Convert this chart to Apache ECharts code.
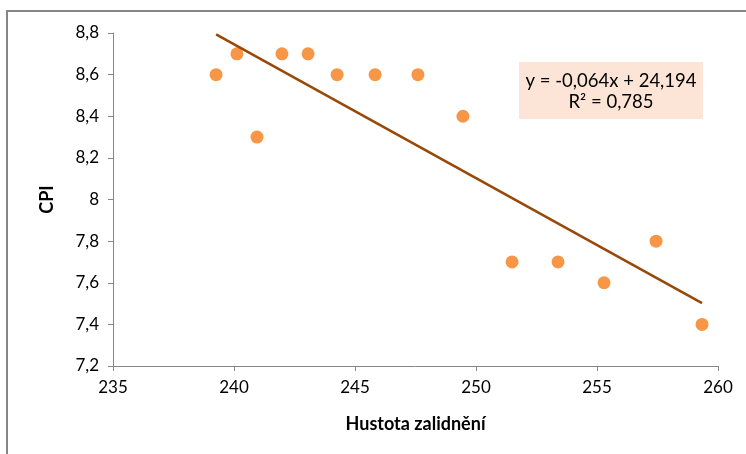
<!DOCTYPE html>
<html><head><meta charset="utf-8">
<script src="https://cdn.jsdelivr.net/npm/echarts@6/dist/echarts.min.js"></script>
<style>html,body{margin:0;padding:0;background:#fff}#c{width:746px;height:454px}</style>
</head><body><div id="c"></div>
<script>
const density = [239.26, 240.12, 240.95, 241.98, 243.06, 244.26, 245.83, 247.6, 249.46, 251.49, 253.39, 255.29, 257.44, 259.34];
const cpi = [8.6, 8.7, 8.3, 8.7, 8.7, 8.6, 8.6, 8.6, 8.4, 7.7, 7.7, 7.6, 7.8, 7.4];
const equationText = ['y = -0,064x + 24,194', 'R² = 0,785'];
const xTitle = 'Hustota zalidnění';
const yTitle = 'CPI';

// least squares trendline from the points
const n = density.length;
const mx = density.reduce((a,b)=>a+b,0)/n, my = cpi.reduce((a,b)=>a+b,0)/n;
let sxy=0,sxx=0; for(let i=0;i<n;i++){sxy+=(density[i]-mx)*(cpi[i]-my);sxx+=(density[i]-mx)**2;}
const slope=sxy/sxx, icpt=my-slope*mx;
const x0=Math.min(...density), x1=Math.max(...density);
const trend=[[x0,icpt+slope*x0],[x1,icpt+slope*x1]];

const font='Lato, "Open Sans", sans-serif';
const chart=echarts.init(document.getElementById('c'));
chart.setOption({
  animation:false,
  grid:{left:113,right:28,top:33,bottom:88},
  xAxis:{type:'value',min:235,max:260,interval:5,
    name:xTitle,nameLocation:'middle',nameGap:49,
    nameTextStyle:{fontFamily:font,fontSize:18,fontWeight:'bold',color:'#000'},
    axisLine:{lineStyle:{color:'#868686',width:1}},
    axisTick:{show:true,length:5,lineStyle:{color:'#868686'}},
    axisLabel:{fontFamily:font,fontSize:17,color:'#000',margin:13},
    splitLine:{show:false}},
  yAxis:{type:'value',min:7.2,max:8.8,interval:0.2,
    name:yTitle,nameLocation:'middle',nameGap:57,nameRotate:90,
    nameTextStyle:{fontFamily:font,fontSize:18,fontWeight:'bold',color:'#000'},
    axisLine:{show:true,lineStyle:{color:'#868686',width:1}},
    axisTick:{show:true,length:5,lineStyle:{color:'#868686'}},
    axisLabel:{fontFamily:font,fontSize:17,color:'#000',margin:14,
      formatter:v=>String(Math.round(v*10)/10).replace('.',',')},
    splitLine:{show:false}},
  series:[
    {type:'scatter',data:density.map((x,i)=>[x,cpi[i]]),symbolSize:13,
      itemStyle:{color:'#F79646',opacity:1},z:3},
    {type:'line',data:trend,symbol:'none',lineStyle:{color:'#984807',width:2.5},z:4}
  ],
  graphic:[
    {type:'rect',shape:{x:7,y:11,width:760,height:460},style:{fill:'none',stroke:'#868686',lineWidth:2},silent:true},
    {type:'rect',shape:{x:519,y:62,width:184,height:57},style:{fill:'#FCE4D6'},z:10},
    {type:'text',x:611,y:81,style:{text:equationText[0],fontFamily:font,fontSize:18.5,fill:'#000',textAlign:'center',textVerticalAlign:'middle'},z:11},
    {type:'text',x:611,y:102,style:{text:equationText[1],fontFamily:font,fontSize:18.5,fill:'#000',textAlign:'center',textVerticalAlign:'middle'},z:11}
  ]
});
</script></body></html>
